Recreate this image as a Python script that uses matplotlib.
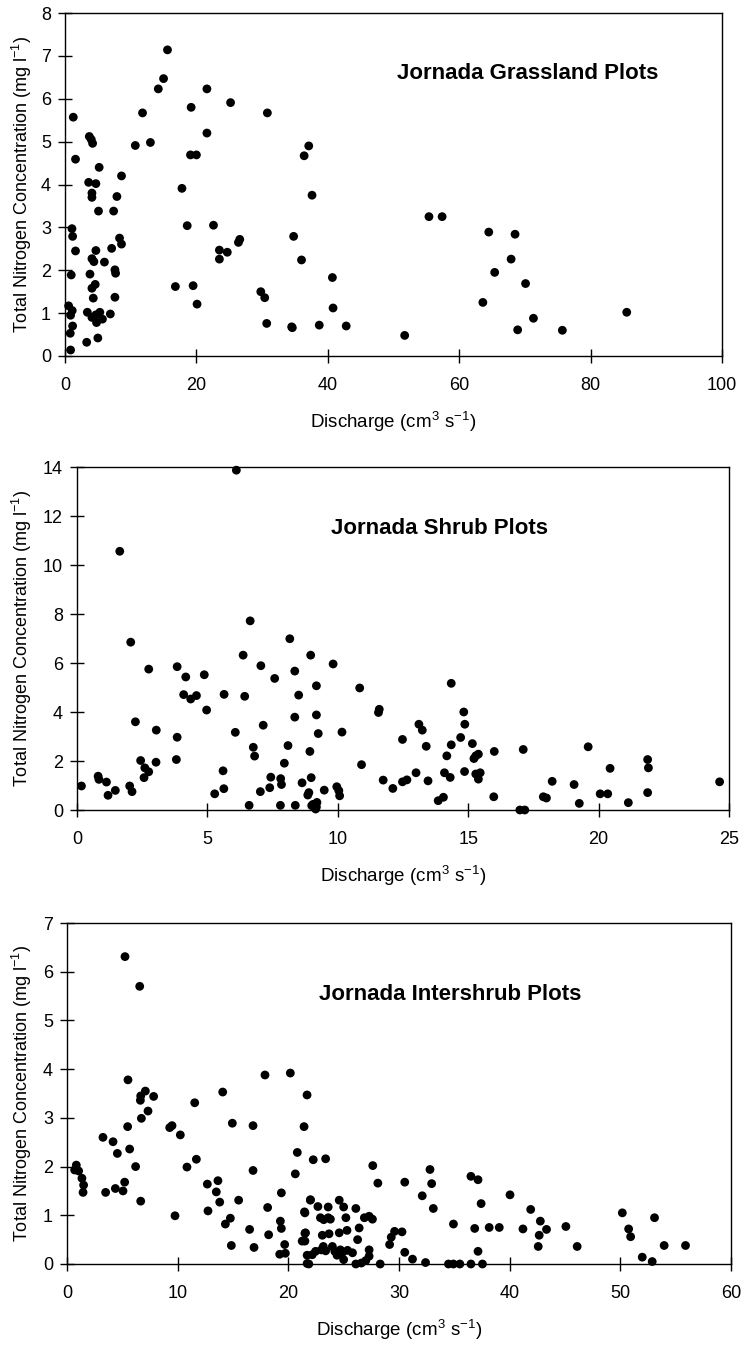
import matplotlib
matplotlib.use("Agg")
import matplotlib.pyplot as plt

# ---------------- data ----------------
grass_x = [15.6, 15.0, 14.2, 21.6, 25.2, 19.2, 11.8, 30.8, 1.26, 21.6, 3.7, 4.0, 4.2, 10.7, 13.0,
           1.6, 19.1, 20.0, 5.2, 8.6, 3.6, 4.7, 4.1, 4.1, 7.9, 17.8, 5.1, 7.4, 1.06, 1.16,
           1.6, 18.6, 22.6, 4.7, 4.1, 4.4, 6.0, 7.1, 8.3, 8.6, 23.5, 24.7, 23.5, 26.6, 26.4,
           0.95, 3.8, 4.1, 4.6, 7.6, 7.7, 4.3, 7.6, 16.8, 19.5, 20.1, 29.8, 30.4, 0.55, 1.1,
           0.85, 3.4, 4.1, 4.8, 4.7, 5.3, 5.7, 6.9, 1.16, 0.8, 3.3, 5.0, 0.85, 30.7, 34.5,
           37.1, 36.4, 37.6, 34.8, 36.0, 40.7, 40.8, 34.6, 38.7, 42.8, 51.7, 55.4, 57.4, 64.5,
           68.5, 67.9, 65.4, 70.1, 63.6, 68.9, 71.3, 75.7, 85.5]
grass_y = [7.14, 6.47, 6.23, 6.23, 5.91, 5.80, 5.67, 5.67, 5.57, 5.20, 5.12, 5.05, 4.96, 4.91, 4.98,
           4.59, 4.69, 4.69, 4.40, 4.20, 4.05, 4.02, 3.80, 3.70, 3.72, 3.91, 3.38, 3.38, 2.97, 2.79,
           2.45, 3.04, 3.05, 2.46, 2.27, 2.20, 2.19, 2.51, 2.75, 2.61, 2.47, 2.42, 2.26, 2.72, 2.65,
           1.89, 1.91, 1.58, 1.67, 2.01, 1.93, 1.35, 1.37, 1.62, 1.64, 1.21, 1.50, 1.36, 1.17, 1.06,
           0.95, 1.02, 0.90, 0.78, 0.96, 1.02, 0.86, 0.98, 0.70, 0.53, 0.32, 0.42, 0.14, 0.76, 0.68,
           4.90, 4.67, 3.75, 2.79, 2.24, 1.83, 1.12, 0.66, 0.72, 0.70, 0.48, 3.25, 3.25, 2.89,
           2.84, 2.26, 1.95, 1.69, 1.25, 0.61, 0.88, 0.60, 1.02]

shrub_x = [6.11, 1.64, 2.06, 6.64, 8.16, 6.37, 8.96, 2.75, 3.84, 4.88, 4.17, 7.05, 7.58, 8.35, 9.18,
           4.09, 4.36, 4.58, 5.64, 6.43, 8.50, 4.97, 2.24, 3.04, 3.84, 6.07, 7.14, 8.35, 9.18, 9.25,
           6.76, 6.81, 8.09, 8.93, 2.44, 2.60, 2.75, 2.57, 3.03, 3.81, 5.60, 7.95, 0.17, 0.81, 0.84,
           1.13, 1.19, 1.47, 2.02, 2.11, 5.28, 5.63, 6.60, 7.03, 7.39, 7.43, 7.81, 7.84, 7.80, 8.37,
           8.63, 8.89, 8.98, 9.05, 9.18, 9.82, 10.84, 11.59, 11.56, 10.16, 10.91, 8.85, 9.48, 9.00,
           9.15, 9.20, 9.96, 10.04, 10.07, 11.74, 12.11, 12.48, 12.48, 12.65, 13.00, 13.11, 13.24,
           13.39, 13.46, 13.85, 14.05, 14.18, 14.35, 14.35, 14.09, 14.31, 14.71, 14.83, 14.87, 14.86,
           15.16, 15.29, 15.39, 15.22, 15.29, 15.46, 15.39, 16.00, 15.98, 17.11, 16.98, 17.17, 18.00,
           18.22, 17.88, 19.06, 19.26, 19.60, 20.06, 20.35, 20.44, 21.14, 21.88, 21.91, 21.88, 24.64]
shrub_y = [13.87, 10.56, 6.85, 7.72, 6.99, 6.32, 6.32, 5.75, 5.85, 5.52, 5.43, 5.89, 5.37, 5.67, 5.07,
           4.71, 4.53, 4.67, 4.72, 4.64, 4.69, 4.08, 3.60, 3.26, 2.97, 3.17, 3.46, 3.79, 3.88, 3.12,
           2.56, 2.20, 2.63, 2.39, 2.02, 1.72, 1.56, 1.32, 1.95, 2.06, 1.60, 1.91, 0.98, 1.38, 1.25,
           1.14, 0.60, 0.80, 0.98, 0.75, 0.66, 0.87, 0.19, 0.75, 0.91, 1.34, 1.28, 1.04, 0.19, 0.19,
           1.11, 0.71, 1.32, 0.23, 0.12, 5.96, 4.98, 4.11, 3.98, 3.18, 1.85, 0.61, 0.81, 0.18,
           0.04, 0.31, 0.95, 0.79, 0.58, 1.22, 0.88, 2.88, 1.15, 1.23, 1.52, 3.50, 3.26,
           2.60, 1.19, 0.38, 0.52, 2.21, 2.66, 5.17, 1.52, 1.33, 2.96, 4.00, 3.50, 1.57,
           2.71, 2.21, 2.28, 2.10, 1.47, 1.52, 1.26, 2.39, 0.54, 2.47, 0.00, 0.00, 0.49,
           1.17, 0.54, 1.04, 0.27, 2.58, 0.66, 0.66, 1.70, 0.30, 2.06, 1.72, 0.71, 1.15]

inter_x = [5.24, 6.57, 5.51, 7.08, 6.66, 6.63, 7.83, 7.32, 6.72, 5.48, 3.25, 4.16, 4.55, 5.66, 6.20,
           0.84, 1.05, 1.35, 1.50, 1.45, 0.69, 3.49, 4.37, 5.06, 5.21, 6.66, 9.28, 9.49, 10.24, 9.76,
           10.84, 11.69, 11.54, 14.07, 14.94, 12.68, 13.64, 13.49, 13.80, 12.74, 15.51, 14.31, 14.76,
           14.85, 16.50, 16.90, 16.81, 16.81, 17.89, 20.18, 18.13, 18.22, 19.37, 19.28, 19.37, 19.67,
           19.22, 19.73, 20.63, 20.81, 21.42, 21.69, 21.50, 21.50, 21.50, 21.70, 21.70, 21.99,
           22.25, 23.37, 27.63, 28.09, 30.52, 32.80, 32.95, 32.10, 33.10, 36.50, 37.14, 37.42, 34.92,
           36.84, 38.15, 39.06, 40.03, 41.90, 41.20, 42.77, 42.67, 42.58, 37.14, 32.40, 34.47, 34.92,
           35.50, 36.50, 37.54, 30.52, 31.22, 29.15, 29.30, 29.60, 30.27, 28.30, 26.10, 26.26, 26.40,
           26.87, 27.30, 27.60, 27.30, 27.30, 27.00, 26.60, 26.10, 24.60, 25.00, 25.20, 25.30, 24.60,
           24.70, 24.90, 25.35, 25.80, 25.00, 23.60, 22.90, 23.20, 23.60, 23.80, 22.00, 21.46, 22.67,
           21.55, 21.25, 23.07, 23.68, 23.16, 22.98, 23.37, 23.98, 22.16, 21.85, 22.46, 24.20, 24.40,
           43.33, 45.08, 46.10, 50.18, 50.75, 50.93, 53.09, 51.98, 52.88, 53.96, 55.89]
inter_y = [6.31, 5.70, 3.78, 3.55, 3.45, 3.36, 3.44, 3.14, 2.99, 2.82, 2.60, 2.51, 2.27, 2.36, 2.00,
           2.03, 1.91, 1.76, 1.62, 1.47, 1.93, 1.47, 1.55, 1.50, 1.68, 1.29, 2.80, 2.84, 2.65, 0.99,
           1.99, 2.15, 3.31, 3.53, 2.89, 1.64, 1.71, 1.48, 1.27, 1.09, 1.31, 0.82, 0.94,
           0.38, 0.71, 0.34, 2.84, 1.92, 3.88, 3.92, 1.16, 0.60, 1.46, 0.88, 0.73, 0.40,
           0.20, 0.22, 1.85, 2.29, 2.82, 3.47, 1.05, 0.63, 0.47, 0.18, 0.01, 1.31,
           2.14, 2.16, 2.02, 1.66, 1.68, 1.94, 1.65, 1.40, 1.14, 1.80, 1.73, 1.24, 0.82,
           0.73, 0.75, 0.75, 1.42, 1.12, 0.72, 0.88, 0.59, 0.36, 0.26, 0.03, 0.00, 0.00,
           0.00, 0.00, 0.00, 0.24, 0.10, 0.40, 0.55, 0.67, 0.66, 0.00, 1.14, 0.50, 0.74,
           0.95, 0.98, 0.92, 0.29, 0.16, 0.07, 0.02, 0.00, 1.31, 1.17, 0.95, 0.69, 0.64,
           0.29, 0.24, 0.28, 0.23, 0.09, 1.17, 0.95, 0.91, 0.95, 0.92, 1.32, 1.07, 1.18,
           0.64, 0.47, 0.59, 0.62, 0.36, 0.29, 0.27, 0.36, 0.19, 0.00, 0.26, 0.26, 0.18,
           0.71, 0.77, 0.36, 1.05, 0.72, 0.56, 0.95, 0.14, 0.05, 0.38, 0.38]

titles = ["Jornada Grassland Plots", "Jornada Shrub Plots", "Jornada Intershrub Plots"]
xlims = [(0, 100), (0, 25), (0, 60)]
ylims = [(0, 8), (0, 14), (0, 7)]
xticks = [[0, 20, 40, 60, 80, 100], [0, 5, 10, 15, 20, 25], [0, 10, 20, 30, 40, 50, 60]]
yticks = [list(range(0, 9)), list(range(0, 15, 2)), list(range(0, 8))]
xlabel = r"Discharge (cm$^3$ s$^{-1}$)"
ylabel = r"Total Nitrogen Concentration (mg l$^{-1}$)"

# ---------------- layout ----------------
W, H = 744, 1345
fig = plt.figure(figsize=(W / 100, H / 100), dpi=100)
plt.rcParams['font.family'] = ['Liberation Sans', 'DejaVu Sans']
plt.rcParams['mathtext.fontset'] = 'custom'
plt.rcParams['mathtext.rm'] = 'Liberation Sans'

# pixel boxes: left, right, top, bottom
boxes = [(65, 722, 13, 356), (77, 729, 467, 810), (67, 731, 923, 1264)]
title_pos = [(0.505, 0.825), (0.39, 0.82), (0.38, 0.79)]
data = [(grass_x, grass_y), (shrub_x, shrub_y), (inter_x, inter_y)]

for i in range(3):
    l, r, t, b = boxes[i]
    w, h = r - l, b - t
    ax = fig.add_axes([l / W, 1 - b / H, w / W, h / H])
    xs, ys = data[i]
    ax.scatter(xs, ys, s=40, c='black', edgecolors='none', clip_on=False, zorder=3)
    ax.set_xlim(*xlims[i])
    ax.set_ylim(*ylims[i])
    ax.set_xticks(xticks[i])
    ax.set_yticks(yticks[i])
    ax.tick_params(direction='inout', length=10, width=1, labelsize=13, colors='black')
    ax.tick_params(axis='x', pad=10)
    ax.tick_params(axis='y', pad=5)
    for s in ax.spines.values():
        s.set_linewidth(1.0)
        s.set_color('black')
    ax.set_xlabel(xlabel, fontsize=13.5)
    ax.xaxis.set_label_coords(0.5, -66 / h)
    ax.set_ylabel(ylabel, fontsize=13)
    ax.yaxis.set_label_coords((22 - l) / w, 0.5)
    ax.xaxis.label.set_va('center')
    ax.yaxis.label.set_va('center')
    ax.text(title_pos[i][0], title_pos[i][1], titles[i], transform=ax.transAxes,
            fontsize=16, fontweight='bold', ha='left', va='center')

fig.savefig("out.png", dpi=100)
